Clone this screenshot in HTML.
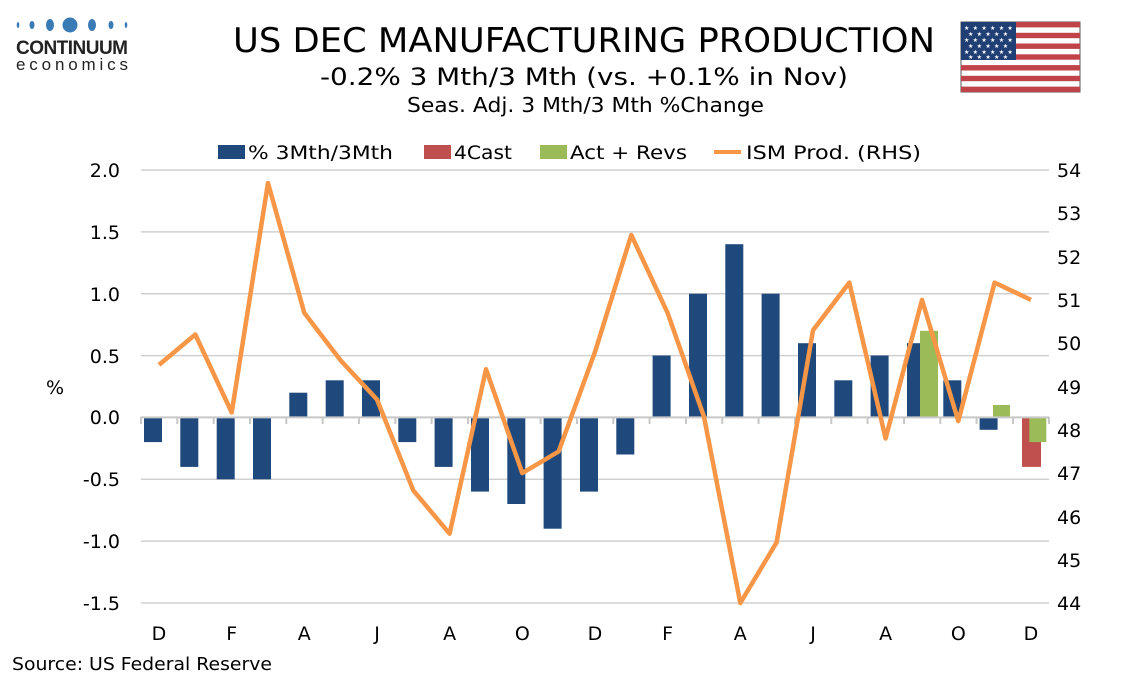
<!DOCTYPE html>
<html><head><meta charset="utf-8"><style>
body{margin:0;background:#fff;}
svg{display:block;font-family:"DejaVu Sans","Liberation Sans",sans-serif;}
</style></head><body>
<svg width="1134" height="680" viewBox="0 0 1134 680" xmlns="http://www.w3.org/2000/svg">
<rect width="1134" height="680" fill="#fff"/>
<g fill="#3a7bb5">
<ellipse cx="18" cy="25" rx="1.3" ry="3"/><ellipse cx="32" cy="25" rx="2.5" ry="4"/><ellipse cx="50" cy="25" rx="4" ry="6"/><circle cx="70" cy="25" r="7.5"/><ellipse cx="92" cy="25" rx="4" ry="6"/><ellipse cx="111" cy="25" rx="2.5" ry="4"/><ellipse cx="126" cy="25" rx="1.3" ry="3"/>
</g>
<text x="16" y="54" font-size="19" font-weight="bold" fill="#222" textLength="112" font-family="Liberation Sans,sans-serif">CONTINUUM</text>
<text x="16" y="70" font-size="17" fill="#222" textLength="112" font-family="Liberation Sans,sans-serif">economics</text>
<text x="233" y="52" font-size="34" fill="#000" textLength="702" lengthAdjust="spacingAndGlyphs">US DEC MANUFACTURING PRODUCTION</text>
<text x="320" y="85" font-size="24" fill="#000" textLength="528" lengthAdjust="spacingAndGlyphs">-0.2% 3 Mth/3 Mth (vs. +0.1% in Nov)</text>
<text x="407" y="112" font-size="20" fill="#000" textLength="357" lengthAdjust="spacingAndGlyphs">Seas. Adj. 3 Mth/3 Mth %Change</text>
<g>
<rect x="961" y="22" width="119" height="70" fill="#fff" stroke="#555" stroke-width="1"/>
<g fill="#c0434a">
<rect x="961" y="22" width="119" height="5.4"/><rect x="961" y="32.8" width="119" height="5.4"/><rect x="961" y="43.5" width="119" height="5.4"/><rect x="961" y="54.3" width="119" height="5.4"/><rect x="961" y="65.1" width="119" height="5.4"/><rect x="961" y="75.8" width="119" height="5.4"/><rect x="961" y="86.6" width="119" height="5.4"/>
</g>
<rect x="961" y="22" width="55" height="38" fill="#1f3f75"/>
<g fill="#fff" font-size="6">
<text x="964" y="30" letter-spacing="3.3">★★★★★★</text><text x="968" y="36" letter-spacing="3.3">★★★★★</text><text x="964" y="42" letter-spacing="3.3">★★★★★★</text><text x="968" y="48" letter-spacing="3.3">★★★★★</text><text x="964" y="54" letter-spacing="3.3">★★★★★★</text><text x="968" y="59" letter-spacing="3.3">★★★★★</text>
</g>
</g>
<g font-size="19" fill="#000">
<rect x="218" y="145" width="27" height="14" fill="#1f497d"/><text x="248" y="159" textLength="145" lengthAdjust="spacingAndGlyphs">% 3Mth/3Mth</text>
<rect x="424" y="145" width="27" height="14" fill="#c0504d"/><text x="454" y="159" textLength="58" lengthAdjust="spacingAndGlyphs">4Cast</text>
<rect x="540" y="145" width="27" height="14" fill="#9bbb59"/><text x="570" y="159" textLength="117" lengthAdjust="spacingAndGlyphs">Act + Revs</text>
<line x1="714" y1="152" x2="741" y2="152" stroke="#f79646" stroke-width="4"/><text x="746" y="159" textLength="175" lengthAdjust="spacingAndGlyphs">ISM Prod. (RHS)</text>
</g>
<g stroke="#d0d0d0" stroke-width="1.5">
<line x1="141" y1="170" x2="1049" y2="170"/><line x1="141" y1="231.9" x2="1049" y2="231.9"/><line x1="141" y1="293.7" x2="1049" y2="293.7"/><line x1="141" y1="355.6" x2="1049" y2="355.6"/><line x1="141" y1="479.3" x2="1049" y2="479.3"/><line x1="141" y1="541.1" x2="1049" y2="541.1"/><line x1="141" y1="603" x2="1049" y2="603"/>
</g>
<g font-size="19" text-anchor="end" fill="#000">
<text x="120" y="177">2.0</text><text x="120" y="239">1.5</text><text x="120" y="301">1.0</text><text x="120" y="363">0.5</text><text x="120" y="424">0.0</text><text x="120" y="486">-0.5</text><text x="120" y="548">-1.0</text><text x="120" y="610">-1.5</text>
</g>
<text x="55" y="394" font-size="19" text-anchor="middle">%</text>
<g font-size="19" fill="#000">
<text x="1057" y="177">54</text><text x="1057" y="220">53</text><text x="1057" y="264">52</text><text x="1057" y="307">51</text><text x="1057" y="350">50</text><text x="1057" y="394">49</text><text x="1057" y="437">48</text><text x="1057" y="480">47</text><text x="1057" y="524">46</text><text x="1057" y="567">45</text><text x="1057" y="610">44</text>
</g>
<g fill="#1f497d">
<rect x="144" y="417.4" width="18" height="24.7"/>
<rect x="180.3" y="417.4" width="18" height="49.5"/>
<rect x="216.7" y="417.4" width="18" height="61.9"/>
<rect x="253" y="417.4" width="18" height="61.9"/>
<rect x="289.3" y="392.7" width="18" height="24.7"/>
<rect x="325.7" y="380.3" width="18" height="37.1"/>
<rect x="362" y="380.3" width="18" height="37.1"/>
<rect x="398.3" y="417.4" width="18" height="24.7"/>
<rect x="434.6" y="417.4" width="18" height="49.5"/>
<rect x="471" y="417.4" width="18" height="74.2"/>
<rect x="507.3" y="417.4" width="18" height="86.6"/>
<rect x="543.6" y="417.4" width="18" height="111.3"/>
<rect x="580" y="417.4" width="18" height="74.2"/>
<rect x="616.3" y="417.4" width="18" height="37.1"/>
<rect x="652.6" y="355.5" width="18" height="61.9"/>
<rect x="689" y="293.7" width="18" height="123.7"/>
<rect x="725.3" y="244.2" width="18" height="173.2"/>
<rect x="761.6" y="293.7" width="18" height="123.7"/>
<rect x="798" y="343.2" width="18" height="74.2"/>
<rect x="834.3" y="380.3" width="18" height="37.1"/>
<rect x="870.6" y="355.5" width="18" height="61.9"/>
<rect x="907" y="343.2" width="18" height="74.2"/>
<rect x="943.3" y="380.3" width="18" height="37.1"/>
<rect x="979.6" y="417.4" width="18" height="12.4"/>
</g>
<rect x="1022" y="417.4" width="19" height="49.5" fill="#c0504d"/>
<g fill="#9bbb59">
<rect x="920" y="330.8" width="18" height="86.6"/>
<rect x="993" y="405" width="17" height="12.4"/>
<rect x="1029.3" y="417.4" width="17" height="24.7"/>
</g>
<g stroke="#c8c8c8" stroke-width="2">
<line x1="141" y1="417.4" x2="1049" y2="417.4"/>
<path d="M141,417v7M177.3,417v7M213.7,417v7M250,417v7M286.3,417v7M322.7,417v7M359,417v7M395.3,417v7M431.6,417v7M468,417v7M504.3,417v7M540.6,417v7M577,417v7M613.3,417v7M649.6,417v7M686,417v7M722.3,417v7M758.6,417v7M795,417v7M831.3,417v7M867.6,417v7M904,417v7M940.3,417v7M976.6,417v7M1013,417v7M1049,417v7"/>
</g>
<polyline fill="none" stroke="#f79646" stroke-width="4.5" stroke-linejoin="round" points="159,364.9 195.3,334.5 231.7,412.5 268,183 304.3,312.9 340.7,360.5 377,399.5 413.3,490.4 449.6,533.7 486,369.2 522.3,473.1 558.6,451.5 595,351.9 631.3,235 667.6,312.9 704,416.8 740.3,603 776.6,542.4 813,330.2 849.3,282.6 885.6,438.5 922,299.9 958.3,421.1 994.6,282.6 1031,299.9"/>
<g font-size="19" text-anchor="middle" fill="#000">
<text x="159" y="640">D</text><text x="231.7" y="640">F</text><text x="304.3" y="640">A</text><text x="377" y="640">J</text><text x="449.6" y="640">A</text><text x="522.3" y="640">O</text><text x="595" y="640">D</text><text x="667.6" y="640">F</text><text x="740.3" y="640">A</text><text x="813" y="640">J</text><text x="885.6" y="640">A</text><text x="958.3" y="640">O</text><text x="1031" y="640">D</text>
</g>
<text x="12" y="670" font-size="18" fill="#000" textLength="260" lengthAdjust="spacingAndGlyphs">Source: US Federal Reserve</text>
</svg>
</body></html>
